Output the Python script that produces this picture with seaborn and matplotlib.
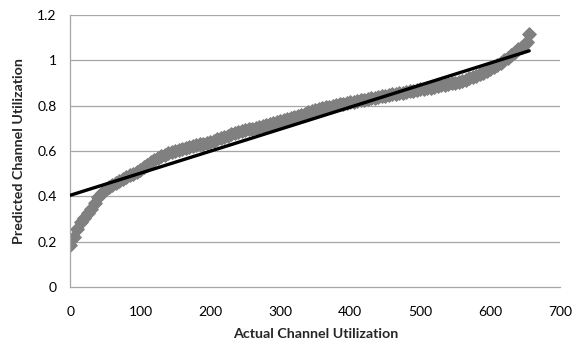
import matplotlib
matplotlib.use("Agg")
import matplotlib.pyplot as plt
import seaborn as sns
import pandas as pd

actual = list(range(0, 651, 5)) + [653, 656]
predicted = [
    0.185, 0.22, 0.255, 0.285, 0.305, 0.325, 0.345, 0.37, 0.395, 0.415,
    0.43, 0.44, 0.45, 0.458, 0.467, 0.476, 0.485, 0.493, 0.50, 0.508,
    0.517, 0.528, 0.54, 0.55, 0.56, 0.568, 0.576, 0.583, 0.589, 0.594,
    0.599, 0.604, 0.608, 0.612, 0.616, 0.621, 0.625, 0.629, 0.633, 0.637,
    0.641, 0.646, 0.651, 0.656, 0.662, 0.667, 0.673, 0.679, 0.685, 0.688,
    0.691, 0.695, 0.699, 0.703, 0.707, 0.711, 0.715, 0.719, 0.723, 0.727,
    0.732, 0.737, 0.742, 0.747, 0.751, 0.755, 0.76, 0.765, 0.77, 0.775,
    0.779, 0.784, 0.788, 0.792, 0.796, 0.80, 0.803, 0.806, 0.809, 0.812,
    0.815, 0.818, 0.821, 0.824, 0.827, 0.83, 0.833, 0.836, 0.838, 0.841,
    0.844, 0.847, 0.85, 0.852, 0.855, 0.858, 0.861, 0.863, 0.866, 0.869,
    0.872, 0.874, 0.877, 0.88, 0.883, 0.886, 0.889, 0.892, 0.895, 0.899,
    0.902, 0.906, 0.91, 0.915, 0.92, 0.926, 0.932, 0.939, 0.946, 0.954,
    0.963, 0.972, 0.98, 0.99, 1.0, 1.012, 1.024, 1.036, 1.048, 1.058,
    1.07, 1.082, 1.115,
]

# Linear trend line end points
trend_x = [0, 656]
trend_y = [0.405, 1.042]

x_ticks = [0, 100, 200, 300, 400, 500, 600, 700]
y_ticks = [0, 0.2, 0.4, 0.6, 0.8, 1.0, 1.2]
y_tick_labels = ["0", "0.2", "0.4", "0.6", "0.8", "1", "1.2"]

sns.set_style("white")
plt.rcParams["font.family"] = ["Lato", "DejaVu Sans"]

pts = pd.DataFrame({"actual": actual, "predicted": predicted})
trend = pd.DataFrame({"x": trend_x, "y": trend_y})

fig = plt.figure(figsize=(5.86, 3.49), dpi=100)
ax = fig.add_axes([0.1203, 0.1777, 0.9556 - 0.1203, 0.957 - 0.1777])

grid_c = "#a6a6a6"
for yv in y_ticks[1:]:
    ax.axhline(yv, color=grid_c, lw=0.9, zorder=0)

sns.scatterplot(data=pts, x="actual", y="predicted", ax=ax, marker="D",
                s=48, color="#808080", edgecolor="#808080", linewidth=0.8,
                zorder=2, legend=False)
sns.lineplot(data=trend, x="x", y="y", ax=ax, color="black", lw=2.4,
             zorder=3, legend=False)

ax.set_xlim(0, 700)
ax.set_ylim(0, 1.2)
ax.set_xticks(x_ticks)
ax.set_yticks(y_ticks)
ax.set_yticklabels(y_tick_labels)
ax.tick_params(axis="both", labelsize=10, colors="#000000", length=4,
               width=0.9, direction="out", pad=6)
ax.tick_params(axis="both", color=grid_c)
ax.tick_params(axis="x", pad=10)

for side in ["top", "right"]:
    ax.spines[side].set_visible(False)
for side in ["left", "bottom"]:
    ax.spines[side].set_color(grid_c)
    ax.spines[side].set_linewidth(0.9)

ax.set_xlabel("Actual Channel Utilization", fontsize=10.3, fontweight="bold",
              labelpad=7)
ax.set_ylabel("Predicted Channel Utilization", fontsize=10.3, fontweight="bold",
              labelpad=9)

fig.savefig("out.png", dpi=100)
